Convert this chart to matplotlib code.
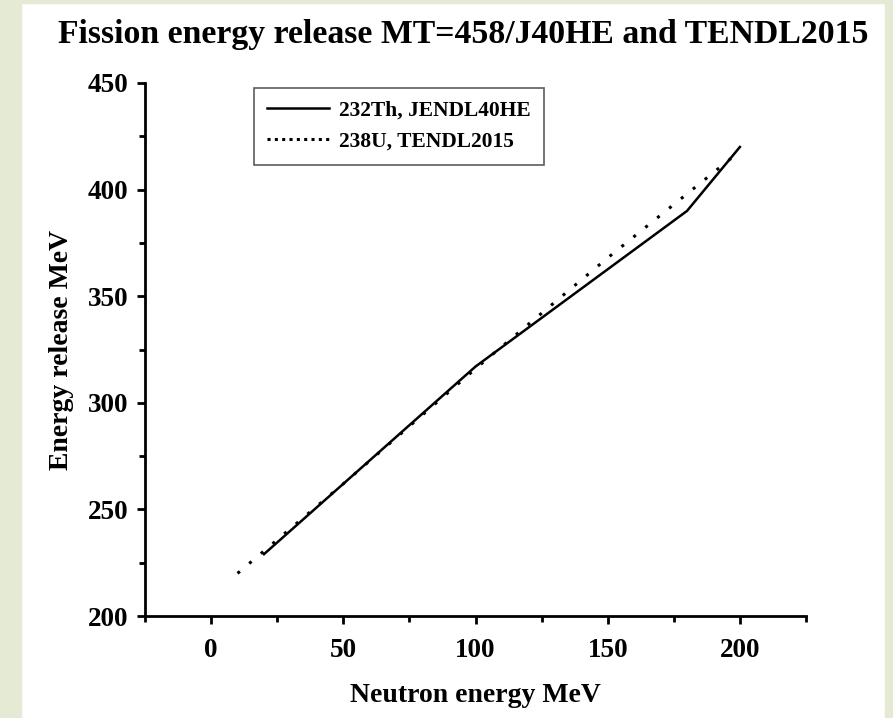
import numpy as np
import matplotlib
matplotlib.use("Agg")
import matplotlib.pyplot as plt
from matplotlib.patches import Rectangle
from matplotlib.ticker import MultipleLocator

plt.rcParams['font.family'] = ['Liberation Serif', 'DejaVu Serif']
plt.rcParams['font.weight'] = 'bold'

# data
th232_E = [20, 100, 180, 200]
th232_Q = [229, 317, 390, 420]
u238_E = [10, 50, 100, 150, 200]
u238_Q = [220, 262, 316, 368, 418]

fig = plt.figure(figsize=(8.93, 7.18), dpi=100)
bg = '#e4ead4'
fig.patches.append(Rectangle((0, 0), 21/893, 1, transform=fig.transFigure, color=bg, zorder=0))
fig.patches.append(Rectangle((0, 1-3/718), 1, 3/718, transform=fig.transFigure, color=bg, zorder=0))
fig.patches.append(Rectangle((885/893, 0), 8/893, 1, transform=fig.transFigure, color=bg, zorder=0))

ax = fig.add_axes([145/893, 1-616/718, (806-145)/893, (616-83)/718])
ax.plot(th232_E, th232_Q, color='black', lw=1.8, label='232Th, JENDL40HE')
ax.plot(u238_E, u238_Q, color='black', lw=2.2, ls=(0, (1, 4)), label='238U, TENDL2015')

ax.set_xlim(-25, 225)
ax.set_ylim(200, 450)
ax.xaxis.set_major_locator(MultipleLocator(50))
ax.xaxis.set_minor_locator(MultipleLocator(25))
ax.yaxis.set_major_locator(MultipleLocator(50))
ax.yaxis.set_minor_locator(MultipleLocator(25))
ax.spines['top'].set_visible(False)
ax.spines['right'].set_visible(False)
for s in ['left', 'bottom']:
    ax.spines[s].set_linewidth(2)
ax.tick_params(which='major', direction='out', length=6, width=2, labelsize=19.5)
ax.tick_params(axis='x', which='major', pad=10)
ax.tick_params(axis='y', which='major', pad=6)
ax.tick_params(which='minor', direction='out', length=4, width=2)

ax.set_xlabel('Neutron energy MeV', fontsize=20, fontweight='bold', labelpad=14)
ax.set_ylabel('Energy release MeV', fontsize=20, fontweight='bold', labelpad=10)
fig.text(463/893, 1-34/718, 'Fission energy release MT=458/J40HE and TENDL2015',
         ha='center', va='center', fontsize=24.3, fontweight='bold')

leg = ax.legend(loc='upper left', bbox_to_anchor=(109/661, 1-5/533), fontsize=15.5,
                frameon=True, fancybox=False, handlelength=2.9, handletextpad=0.45,
                borderpad=0.6, labelspacing=0.5, borderaxespad=0)
leg.get_frame().set_edgecolor('#333333')
leg.get_frame().set_linewidth(1.2)
leg.get_lines()[1].set_linestyle((0, (1, 1.4)))

fig.savefig('out.png', dpi=100)
